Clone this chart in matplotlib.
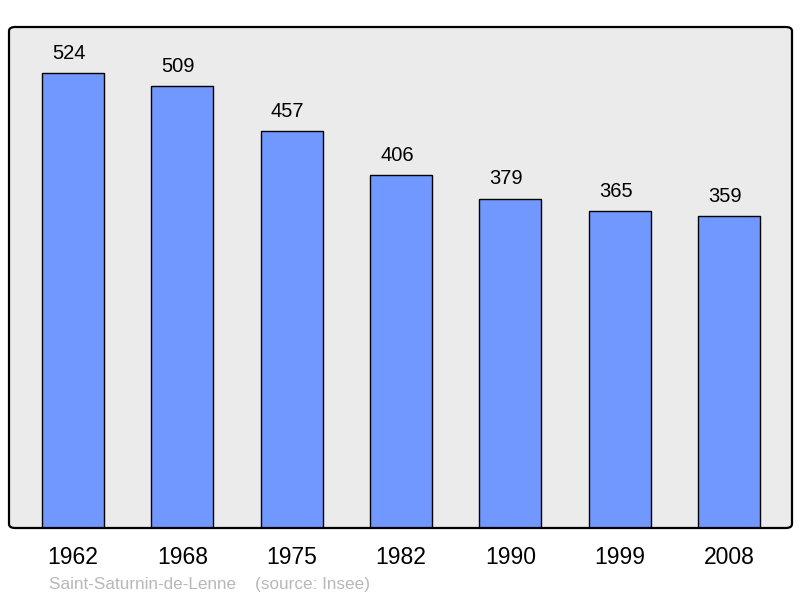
import matplotlib.pyplot as plt
from matplotlib.patches import FancyBboxPatch

years = ['1962', '1968', '1975', '1982', '1990', '1999', '2008']
population = [524, 509, 457, 406, 379, 365, 359]
commune = 'Saint-Saturnin-de-Lenne'
source = '(source: Insee)'

plt.rcParams['font.family'] = ['Liberation Sans', 'DejaVu Sans']

fig = plt.figure(figsize=(8, 5.98), dpi=100)
ax = fig.add_axes([9 / 800, 70 / 598, 783 / 800, 501 / 598])
ax.patch.set_visible(False)
for s in ax.spines.values():
    s.set_visible(False)

# rounded background + frame
bg = FancyBboxPatch((0, 0), 1, 1, boxstyle='round,pad=0,rounding_size=0.008',
                    transform=ax.transAxes, facecolor='#ebebeb', edgecolor='none',
                    zorder=0, clip_on=False)
frame = FancyBboxPatch((0, 0), 1, 1, boxstyle='round,pad=0,rounding_size=0.008',
                       transform=ax.transAxes, facecolor='none', edgecolor='black',
                       linewidth=1.6, zorder=5, clip_on=False)
ax.add_patch(bg)
ax.add_patch(frame)

x = range(len(years))
ax.bar(x, population, width=0.567, color='#7098ff', edgecolor='black',
       linewidth=1.0, zorder=2)
# value labels sit slightly left of bar centres
for xi, v in zip(x, population):
    ax.text(xi - 0.037, v + 23, str(v), ha='center', va='center', fontsize=14.5,
            color='black')

ax.set_xlim(-0.585, 6.575)
ax.set_ylim(0, 577)
ax.set_yticks([])
ax.set_xticks(list(x))
ax.set_xticklabels(years, fontsize=16.5)
ax.tick_params(axis='x', length=0, pad=13)

fig.text(49 / 800, 1 - 584 / 598, commune + '    ' + source, fontsize=12.3,
         color='#b8b8b8', ha='left', va='center')

fig.savefig('out.png', dpi=100)
